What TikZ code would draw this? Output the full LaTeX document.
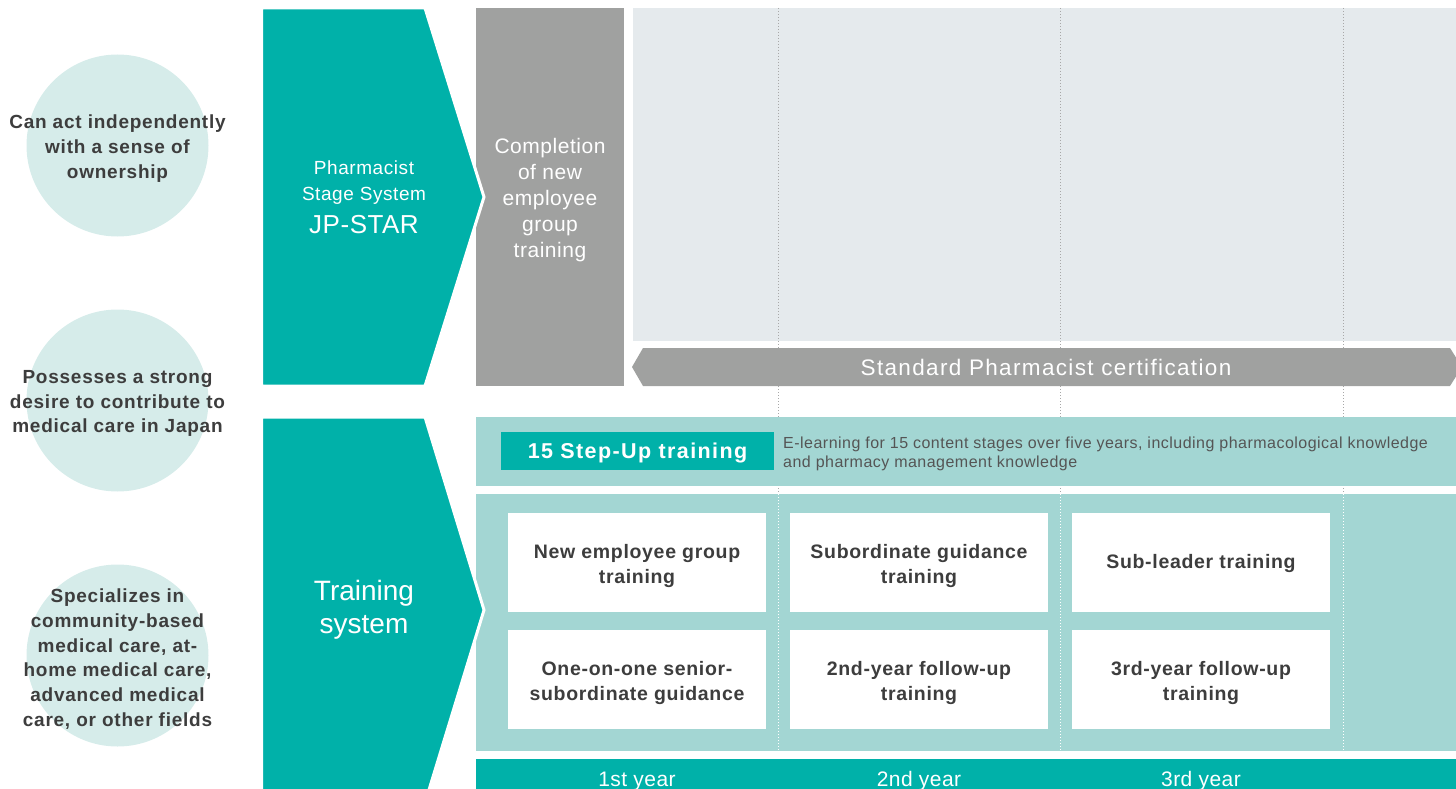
\documentclass[tikz,border=0pt]{standalone}
\usepackage{fontspec}
\setmainfont{Liberation Sans}
\definecolor{teal1}{HTML}{00B1A9}
\definecolor{teal2}{HTML}{A3D6D3}
\definecolor{circ}{HTML}{D6ECEA}
\definecolor{gray1}{HTML}{A0A1A0}
\definecolor{bgl}{HTML}{E5EAED}
\definecolor{dtext}{HTML}{3D3D3D}
\definecolor{mtext}{HTML}{555555}
\definecolor{dotg}{HTML}{A8A8A8}
\tikzset{
  goal/.style={circle, fill=circ, minimum size=182pt, inner sep=0pt},
  goaltext/.style={text=dtext, align=center,
     font=\fontsize{19}{24.7}\selectfont\bfseries\addfontfeature{LetterSpace=4}},
  whitebox/.style={fill=white, minimum width=258pt, minimum height=99pt, inner sep=0pt},
  boxtext/.style={text=dtext, align=center, inner sep=0pt,
     font=\fontsize{19.5}{25}\selectfont\bfseries\addfontfeature{LetterSpace=3.5}},
  chev/.style={fill=teal1, draw=white, line width=3pt, line join=miter},
  yearlbl/.style={text=white, anchor=base, font=\fontsize{21}{24}\selectfont\addfontfeature{LetterSpace=2}},
  whitelbl/.style={text=white, anchor=base},
  gdot/.style={dotg, line width=0.8pt, dash pattern=on 1pt off 2pt},
  wdot/.style={white, line width=0.8pt, dash pattern=on 1pt off 2pt},
}
\begin{document}
\begin{tikzpicture}[x=1pt,y=-1pt]
\useasboundingbox (0,0) rectangle (1456,789);
\clip (0,0) rectangle (1456,789);
% light background area
\fill[bgl] (633,8) rectangle (1456,341);
% dotted year lines
\foreach \xx in {778,1060,1343} \draw[gdot] (\xx,8) -- (\xx,751);
% gray completion block
\fill[gray1] (476,8) rectangle (624,386);
\node[text=white, align=center, font=\fontsize{21}{26.2}\selectfont\addfontfeature{LetterSpace=2.5}] (compl) at (550,200)
  {Completion\\of new\\employee\\group\\training};
% banner
\fill[gray1] (632,367) -- (643,348) -- (1450,348) -- (1462,367) -- (1450,386) -- (643,386) -- cycle;
\node[text=white, text height=16pt, text depth=0pt, inner sep=0pt,
  font=\fontsize{22.5}{24}\selectfont\addfontfeature{LetterSpace=6}] (cert) at (1046,367)
  {Standard Pharmacist certification};
% step-up band
\fill[teal2] (476,417) rectangle (1456,486);
\node[fill=teal1, minimum width=273pt, minimum height=38pt, inner sep=0pt, text=white,
  text height=15.4pt, text depth=0pt,
  font=\fontsize{21.5}{24}\selectfont\bfseries\addfontfeature{LetterSpace=6.5}] (step) at (637.5,451) {15 Step-Up training};
\node[anchor=west, text=mtext, align=left, inner sep=0pt,
  font=\fontsize{16}{19}\selectfont\addfontfeature{LetterSpace=3}] (elearn) at (783,453.5)
  {E-learning for 15 content stages over five years, including pharmacological knowledge\\and pharmacy management knowledge};
% lower band
\fill[teal2] (476,494) rectangle (1456,751);
\foreach \xx in {778,1060,1343} \draw[wdot] (\xx,494) -- (\xx,751);
\node[whitebox] (b11) at (637,562.5) {};
\node[whitebox] (b12) at (919,562.5) {};
\node[whitebox] (b13) at (1201,562.5) {};
\node[whitebox] (b21) at (637,679.5) {};
\node[whitebox] (b22) at (919,679.5) {};
\node[whitebox] (b23) at (1201,679.5) {};
\node[boxtext] (t11) at ([yshift=-3pt]b11.center) {New employee group\\training};
\node[boxtext] (t12) at ([yshift=-3pt]b12.center) {Subordinate guidance\\training};
\node[boxtext] (t13) at ([yshift=-1pt]b13.center) {Sub-leader training};
\node[boxtext] (t21) at ([yshift=-3pt]b21.center) {One-on-one senior-\\subordinate guidance};
\node[boxtext] (t22) at ([yshift=-3pt]b22.center) {2nd-year follow-up\\training};
\node[boxtext] (t23) at ([yshift=-3pt]b23.center) {3rd-year follow-up\\training};
% bottom year bar
\fill[teal1] (476,759) rectangle (1456,795);
\node[yearlbl] (y1) at (637,786) {1st year};
\node[yearlbl] (y2) at (919,786) {2nd year};
\node[yearlbl] (y3) at (1201,786) {3rd year};
% chevrons
\path[chev] (261.5,8) -- (425,8) -- (484,197) -- (425,386) -- (261.5,386) -- cycle;
\node[whitelbl, font=\fontsize{19}{24}\selectfont\addfontfeature{LetterSpace=3}] (jp1) at (364,174) {Pharmacist};
\node[whitelbl, font=\fontsize{19}{24}\selectfont\addfontfeature{LetterSpace=3}] (jp2) at (364,200) {Stage System};
\node[whitelbl, font=\fontsize{26}{28}\selectfont\addfontfeature{LetterSpace=2}] (jp3) at (364,233) {JP-STAR};
\path[chev] (261.5,417) -- (425,417) -- (484,610) -- (425,803) -- (261.5,803) -- cycle;
\node[whitelbl, font=\fontsize{28}{33}\selectfont] (ts1) at (364,600) {Training};
\node[whitelbl, font=\fontsize{28}{33}\selectfont] (ts2) at (364,633) {system};
% goal circles
\node[goal] (c1) at (117.5,145.5) {};
\node[goal] (c2) at (117.5,400.5) {};
\node[goal] (c3) at (117.5,655.5) {};
\node[goaltext] (t1) at (117.5,148.5) {Can act independently\\with a sense of\\ownership};
\node[goaltext] (t2) at (117.5,403.5) {Possesses a strong\\desire to contribute to\\medical care in Japan};
\node[goaltext] (t3) at (117.5,659) {Specializes in\\community-based\\medical care, at-\\home medical care,\\advanced medical\\care, or other fields};
\end{tikzpicture}
\end{document}
